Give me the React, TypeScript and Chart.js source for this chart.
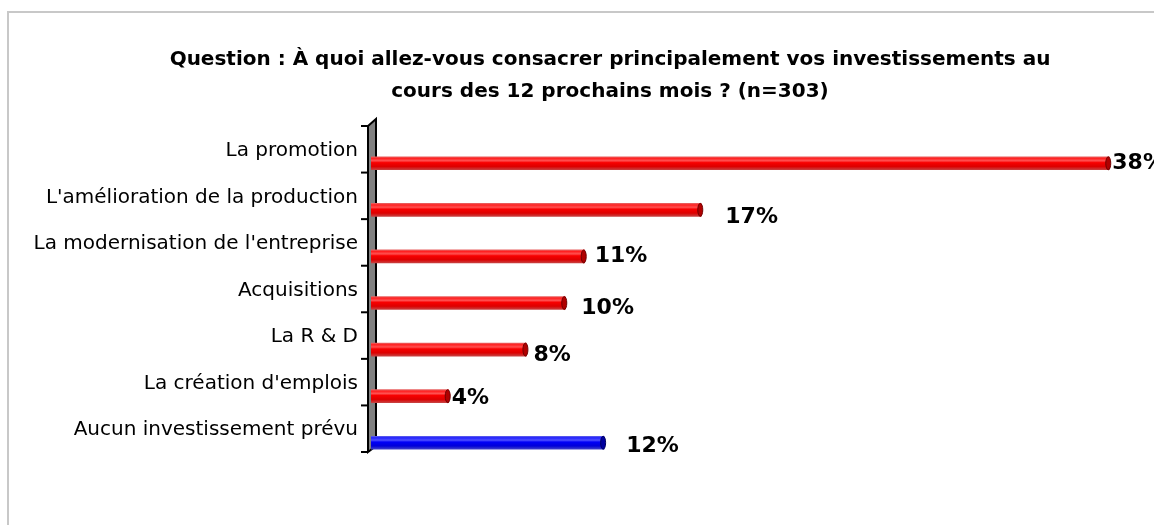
import React, { useEffect, useRef } from "react";
import { Chart, registerables } from "chart.js";

Chart.register(...registerables);

const categories = [
  "La promotion",
  "L'amélioration de la production",
  "La modernisation de l'entreprise",
  "Acquisitions",
  "La R & D",
  "La création d'emplois",
  "Aucun investissement prévu",
];
const values = [38, 17, 11, 10, 8, 4, 12];
const valueLabels = ["38%", "17%", "11%", "10%", "8%", "4%", "12%"];
const seriesKind = ["red", "red", "red", "red", "red", "red", "blue"];
const titleLines = [
  "Question : À quoi allez-vous consacrer principalement vos investissements au",
  "cours des 12 prochains mois ? (n=303)",
];

const palettes: Record<string, { solid: string; stops: [number, string][]; cap: string; capEdge: string }> = {
  red: {
    solid: "#f00000",
    stops: [
      [0, "#e86060"],
      [0.12, "#ff2020"],
      [0.3, "#ff5050"],
      [0.45, "#f80000"],
      [0.75, "#dc0000"],
      [1, "#c84040"],
    ],
    cap: "#b00000",
    capEdge: "#700000",
  },
  blue: {
    solid: "#0000f0",
    stops: [
      [0, "#6060e8"],
      [0.12, "#2020ff"],
      [0.3, "#5050ff"],
      [0.45, "#0000f8"],
      [0.75, "#0000d8"],
      [1, "#4040c8"],
    ],
    cap: "#0000a0",
    capEdge: "#000060",
  },
};

const BAR_H = 13;
const LABEL_SHIFT = -12.5;
const WALL_SHIFT = -14;

function cylinderFill(ctx: any) {
  const chart = ctx.chart;
  const kind = seriesKind[ctx.dataIndex] || "red";
  const pal = palettes[kind];
  const ys = chart.scales && chart.scales.y;
  if (!ys || ctx.dataIndex === undefined) return pal.solid;
  const c = ys.getPixelForValue(ctx.dataIndex);
  if (!isFinite(c)) return pal.solid;
  const g = chart.ctx.createLinearGradient(0, c - BAR_H / 2, 0, c + BAR_H / 2);
  pal.stops.forEach(([o, col]) => g.addColorStop(o, col));
  return g;
}

const wallPlugin = {
  id: "wall3d",
  beforeDatasetsDraw(chart: any) {
    const ctx = chart.ctx;
    const ys = chart.scales.y;
    const L = chart.chartArea.left;
    const n = categories.length;
    const step = ys.getPixelForValue(1) - ys.getPixelForValue(0);
    const top = ys.getPixelForValue(0) - step / 2 + WALL_SHIFT;
    const bottom = ys.getPixelForValue(n - 1) + step / 2 + WALL_SHIFT;
    ctx.save();
    ctx.beginPath();
    ctx.moveTo(L - 3, top);
    ctx.lineTo(L + 5, top - 7);
    ctx.lineTo(L + 5, bottom - 6);
    ctx.lineTo(L - 3, bottom);
    ctx.closePath();
    ctx.fillStyle = "#808080";
    ctx.fill();
    ctx.lineWidth = 2;
    ctx.strokeStyle = "#000";
    ctx.stroke();
    for (let i = 0; i <= n; i++) {
      const yy = top + i * step;
      ctx.beginPath();
      ctx.moveTo(L - 10, yy);
      ctx.lineTo(L - 3, yy);
      ctx.stroke();
    }
    ctx.restore();
  },
};

const capsPlugin = {
  id: "cylCaps",
  afterDatasetsDraw(chart: any) {
    const ctx = chart.ctx;
    const meta = chart.getDatasetMeta(0);
    ctx.save();
    meta.data.forEach((bar: any, i: number) => {
      const p = bar.getProps(["x", "y", "base", "height"], true);
      const pal = palettes[seriesKind[i] || "red"];
      const ry = Math.abs(p.height) / 2;
      ctx.beginPath();
      ctx.ellipse(p.x - 1, p.y, 2.5, ry, 0, 0, Math.PI * 2);
      ctx.fillStyle = pal.cap;
      ctx.fill();
      ctx.lineWidth = 1;
      ctx.strokeStyle = pal.capEdge;
      ctx.stroke();
    });
    ctx.restore();
  },
};

const valueLabelPlugin = {
  id: "valueLabels",
  afterDatasetsDraw(chart: any, _args: any, opts: any) {
    const ctx = chart.ctx;
    const meta = chart.getDatasetMeta(0);
    ctx.save();
    ctx.font = "bold 22px 'DejaVu Sans'";
    ctx.fillStyle = "#000";
    ctx.textAlign = "left";
    ctx.textBaseline = "middle";
    meta.data.forEach((bar: any, i: number) => {
      const p = bar.getProps(["x", "y"], true);
      const dx = (opts.dx && opts.dx[i]) || 0;
      const dy = (opts.dy && opts.dy[i]) || 0;
      ctx.fillText(valueLabels[i], p.x + dx, p.y + dy);
    });
    ctx.restore();
  },
};

function ChartView() {
  const ref = useRef<HTMLCanvasElement | null>(null);
  useEffect(() => {
    if (!ref.current) return;
    const chart = new Chart(ref.current, {
      type: "bar",
      data: {
        labels: categories,
        datasets: [
          {
            data: values,
            backgroundColor: cylinderFill as any,
            borderWidth: 0,
            barThickness: BAR_H,
          },
        ],
      },
      plugins: [wallPlugin, capsPlugin, valueLabelPlugin],
      options: {
        indexAxis: "y",
        responsive: false,
        animation: false,
        layout: { padding: { left: 0, right: 0, top: 0, bottom: 59 } },
        scales: {
          x: { display: false, min: 0, max: 43.7 },
          y: {
            offset: true,
            grid: { display: false, drawTicks: false },
            border: { display: false },
            afterFit(scale: any) {
              scale.width = 371;
            },
            ticks: {
              autoSkip: false,
              color: "#000",
              padding: 13,
              labelOffset: LABEL_SHIFT,
              font: { family: "'DejaVu Sans'", size: 20 },
            },
          },
        },
        plugins: {
          legend: { display: false },
          tooltip: { enabled: false },
          title: {
            display: true,
            text: titleLines,
            color: "#000",
            font: { family: "'DejaVu Sans'", size: 20, weight: "bold", lineHeight: "32px" },
            padding: { top: 44, bottom: 32 },
          },
          valueLabels: {
            dx: [3, 24, 10, 16, 7, 3, 22],
            dy: [0, 7, 0, 5, 6, 2, 4],
          },
        } as any,
      },
    });
    return () => chart.destroy();
  }, []);
  return <canvas ref={ref} width={1220} height={525} style={{ display: "block" }} />;
}

export default function App() {
  return (
    <div
      style={{
        position: "fixed",
        left: 0,
        top: 0,
        width: 1154,
        height: 525,
        overflow: "hidden",
        background: "#fff",
      }}
    >
      <div
        style={{
          position: "absolute",
          left: 7,
          top: 11,
          width: 2000,
          height: 2000,
          border: "2px solid #c8c8c8",
        }}
      />
      <div style={{ position: "absolute", left: 0, top: 0 }}>
        <ChartView />
      </div>
    </div>
  );
}
